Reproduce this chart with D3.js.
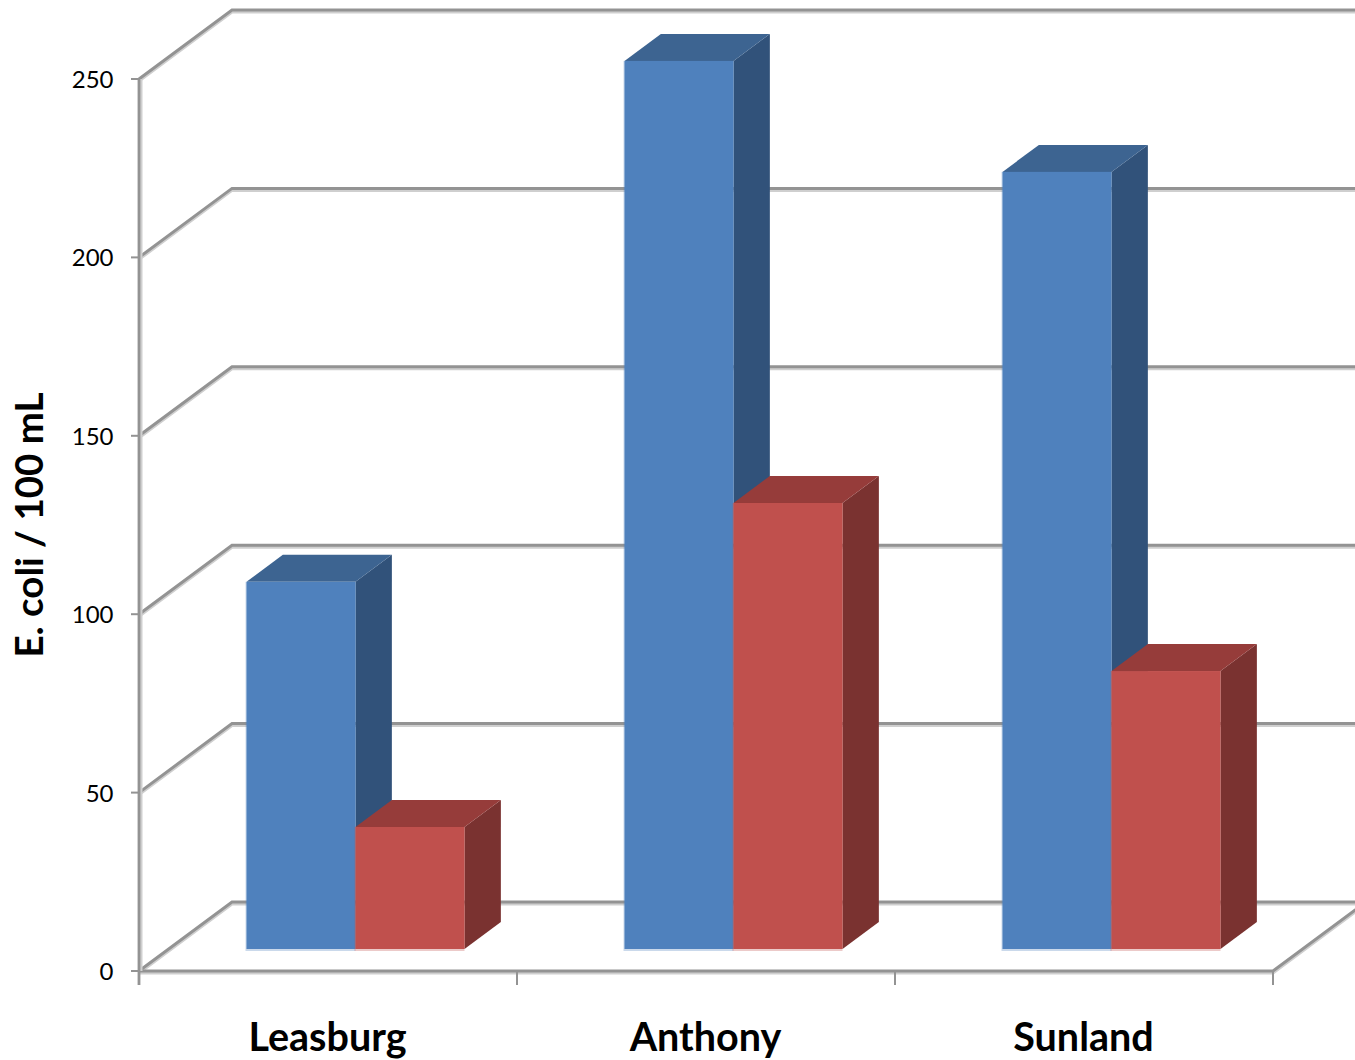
<!DOCTYPE html>
<html>
<head>
<meta charset="utf-8">
<script src="https://cdn.jsdelivr.net/npm/d3@7"></script>
<style>
html,body{margin:0;padding:0;background:#fff;overflow:hidden}
svg{display:block}
text{font-family:Lato,"Open Sans",sans-serif;fill:#000}
</style>
</head>
<body>
<svg id="chart" width="1355" height="1060"></svg>
<script>
// E. coli counts per site, two samples per site
const sites = ["Leasburg", "Anthony", "Sunland"];
const seriesA = [102.9, 248.9, 217.8];
const seriesB = [34.2, 125, 77.9];
const yTicks = [0, 50, 100, 150, 200, 250];
const yTitle = "E. coli / 100 mL";

const svg = d3.select("#chart");

const x = d3.scaleBand().domain(sites).range([139, 1273]).paddingInner(0).paddingOuter(0);
const y = d3.scaleLinear().domain([0, 250]).range([971, 79]);

// Oblique projection: depth 0 is the front plane, depth 1 the back wall
const dx = d3.scaleLinear().domain([0, 1]).range([0, 93]);
const dy = d3.scaleLinear().domain([0, 1]).range([0, -69]);

const barWidth = 109;
const barStart = 107.5;
const barFront = 0.319;
const barBack = 0.71;

const grid = svg.append("g");
const gridColor = "#939393";
const haloColor = "#cfcfcf";

function wallPath(v) {
  const y0 = y(v), xb = 139 + dx(1), yb = y0 + dy(1);
  return `M139,${y0}L${xb},${yb}L1400,${yb}`;
}

// Soft shadow first, then the wall and floor lines on top of it
grid.selectAll("path.halo").data(yTicks).join("path")
  .attr("class", "halo").attr("d", wallPath)
  .attr("transform", "translate(0,2)")
  .attr("fill", "none").attr("stroke", haloColor).attr("stroke-width", 3);
grid.selectAll("path.line").data(yTicks).join("path")
  .attr("class", "line").attr("d", wallPath)
  .attr("fill", "none").attr("stroke", gridColor).attr("stroke-width", 3);

// Floor front edge and right edge
const floor = `M139,${y(0)}L1273,${y(0)}L${1273 + dx(1)},${y(0) + dy(1)}`;
grid.append("path").attr("d", floor).attr("transform", "translate(0,2)")
  .attr("fill", "none").attr("stroke", haloColor).attr("stroke-width", 3);
grid.append("path").attr("d", floor)
  .attr("fill", "none").attr("stroke", gridColor).attr("stroke-width", 3);

// Value axis line with ticks
grid.append("line").attr("x1", 141).attr("x2", 141).attr("y1", y(250)).attr("y2", y(0))
  .attr("stroke", haloColor).attr("stroke-width", 3);
grid.append("line").attr("x1", 139).attr("x2", 139).attr("y1", y(250)).attr("y2", y(0) + 14)
  .attr("stroke", gridColor).attr("stroke-width", 2.8);
grid.selectAll("line.ytick").data(yTicks).join("line")
  .attr("class", "ytick")
  .attr("x1", 131).attr("x2", 139)
  .attr("y1", d => y(d)).attr("y2", d => y(d))
  .attr("stroke", gridColor).attr("stroke-width", 2);

// Category separators under the floor
grid.selectAll("line.xtick").data(sites.map(s => x(s)).concat([x.range()[1]])).join("line")
  .attr("class", "xtick")
  .attr("x1", d => d).attr("x2", d => d)
  .attr("y1", y(0)).attr("y2", y(0) + 14)
  .attr("stroke", gridColor).attr("stroke-width", 2);

// One oblique box: front face, roof and side
function box(g, left, width, value, colors) {
  const fx0 = left, fx1 = left + width;
  const base = y(0) + dy(barFront);
  const top = base - (y(0) - y(value));
  const d = barBack - barFront;
  const ox = dx(d), oy = dy(d);
  g.append("path")
    .attr("d", `M${fx1},${top}L${fx1 + ox},${top + oy}L${fx1 + ox},${base + oy}L${fx1},${base}Z`)
    .attr("fill", colors.side);
  g.append("path")
    .attr("d", `M${fx0},${top}L${fx0 + ox},${top + oy}L${fx1 + ox},${top + oy}L${fx1},${top}Z`)
    .attr("fill", colors.roof);
  g.append("rect")
    .attr("x", fx0 - 1).attr("y", top).attr("width", width + 1).attr("height", base - top + 2)
    .attr("fill", colors.front).attr("opacity", 0.3);
  g.append("rect")
    .attr("x", fx0).attr("y", top).attr("width", width).attr("height", base - top)
    .attr("fill", colors.front);
}

const blue = { front: "#4f81bd", roof: "#3d6491", side: "#31527a" };
const red = { front: "#c0504d", roof: "#963c3a", side: "#7a3230" };

const bars = svg.append("g");
sites.forEach((s, i) => {
  const g = bars.append("g");
  const left = x(s) + barStart;
  box(g, left, barWidth, seriesA[i], blue);
  box(g, left + barWidth, barWidth, seriesB[i], red);
});

// Value labels
svg.append("g").selectAll("text").data(yTicks).join("text")
  .attr("x", 113.5).attr("y", d => y(d) + 9)
  .attr("text-anchor", "end").attr("font-size", 24)
  .text(d => d);

// Site labels
svg.append("g").selectAll("text").data(sites).join("text")
  .attr("x", d => x(d) + x.bandwidth() / 2 - 0.5).attr("y", 1051)
  .attr("text-anchor", "middle").attr("font-size", 39.5).attr("font-weight", 700)
  .text(d => d);

// Value axis title
svg.append("text")
  .attr("transform", "translate(43,525) rotate(-90)")
  .attr("text-anchor", "middle").attr("font-size", 38.5).attr("font-weight", 700)
  .text(yTitle);
</script>
</body>
</html>
